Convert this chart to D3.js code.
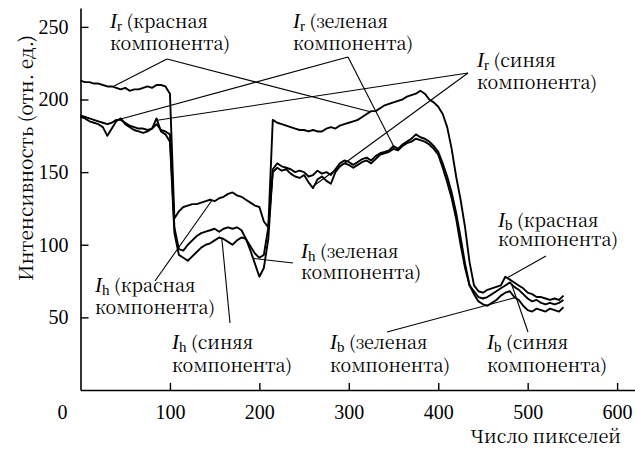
<!DOCTYPE html>
<html><head><meta charset="utf-8">
<script src="https://cdn.jsdelivr.net/npm/d3@7"></script>
<style>
html,body{margin:0;padding:0;background:#fff;}
svg text{fill:#000;}
</style></head>
<body><svg id="c" width="635" height="450"></svg>
<script>
// ---- data ----
const pixels = [0,5,10,15,20,25,30,35,40,45,50,55,60,65,70,75,80,85,90,95,100,105,110,115,120,125,130,135,140,145,150,155,160,165,170,175,180,185,190,195,200,205,210,215,220,225,230,235,240,245,250,255,260,265,270,275,280,285,290,295,300,305,310,315,320,325,330,335,340,345,350,355,360,365,370,375,380,385,390,395,400,405,410,415,420,425,430,435,440,445,450,455,460,465,470,475,480,485,490,495,500,505,510,515,520,525,530,535,540];
const redComp = [213,212,212,211,211,210,209,209,208,207,208,206,207,207,208,209,208,210,210,209,204,118,123,126,127,128,128,129,130,131,130,132,133,135,136,134,133,131,129,127,126,116,112,186,184,183,182,181,180,179,179,178,179,178,178,180,181,180,182,183,184,185,186,188,190,192,192,194,196,197,198,199,200,202,203,204,206,204,200,198,195,190,181,166,147,131,112,88,72,68,67,69,70,71,72,78,76,74,72,70,67,66,64,64,63,62,63,62,65];
const greenComp = [189,188,187,186,185,184,183,184,186,186,184,182,181,180,180,179,180,183,179,178,176,112,97,96,100,103,106,108,109,110,111,109,111,112,111,112,110,104,96,87,78,84,104,152,156,154,153,152,150,151,150,147,148,151,149,150,148,152,156,158,157,155,157,159,160,158,161,163,164,165,168,166,169,171,173,176,174,173,171,168,164,156,147,136,122,105,87,72,66,61,59,58,60,62,65,67,68,64,62,58,55,54,56,55,54,56,55,54,57];
const blueComp = [188,187,185,184,183,181,175,180,185,187,183,181,179,178,177,178,180,187,178,176,171,108,93,91,89,92,95,98,100,101,103,105,104,102,100,103,105,104,99,94,91,93,112,150,153,151,152,149,147,146,148,143,139,145,147,144,142,150,154,156,155,153,155,157,158,156,159,162,163,164,166,165,168,170,171,173,172,171,169,166,162,153,143,132,118,100,84,72,68,64,63,64,66,68,70,72,74,71,69,66,63,61,62,60,59,60,59,60,62];
const yTicks = [50,100,150,200,250];
const xTicks = [100,200,300,400,500,600];
const originLabel = "0";
const xTitle = "Число пикселей";
const yTitle = "Интенсивность (отн. ед.)";
const compNames = {red:"(красная", green:"(зеленая", blue:"(синяя"};
const line2 = "компонента)";
// annotations: subscript, component, target data x values
const annSubs = ["r","r","r","h","h","h","b","b","b"];
const annComps = ["red","green","blue","red","green","blue","red","green","blue"];
const annTargets = [[36,324],[42,350],[84,259],[147],[193],[158],[477],[486],[482]];

// ---- layout ----
const annLayout = [
  {tx:110, ty:28, lh:22, ax:167, ay:59},
  {tx:293, ty:28, lh:22, ax:348, ay:57},
  {tx:477, ty:67, lh:22, ax:468, ay:73},
  {tx:95,  ty:292, lh:22, ax:155, ay:281},
  {tx:301, ty:258, lh:21, ax:293, ay:263},
  {tx:172, ty:349, lh:23, ax:230, ay:323},
  {tx:498, ty:227, lh:19, ax:546, ay:256},
  {tx:330, ty:349, lh:23, ax:387, ay:332},
  {tx:487, ty:349, lh:23, ax:528, ay:332}
];
const series = {red:redComp, green:greenComp, blue:blueComp};
const LAT = "'Liberation Serif', serif";
const CYR = "'Noto Serif CJK SC', 'DejaVu Serif', serif";

const svg = d3.select("#c");
const x = d3.scaleLinear().domain([0,620]).range([80.5,635]);
const y = d3.scaleLinear().domain([0,263]).range([390,8]);
const FS = 20, CFS = 18;

// axes
const gy = svg.append("g").attr("transform","translate(80.5,0)")
  .call(d3.axisLeft(y).tickValues(yTicks).tickSize(-8).tickSizeOuter(0).tickPadding(12));
const gx = svg.append("g").attr("transform","translate(0,390)")
  .call(d3.axisBottom(x).tickValues(xTicks).tickSize(-7).tickSizeOuter(0).tickPadding(15));
[gx,gy].forEach(g=>{
  g.attr("font-family",LAT).attr("font-size",FS);
  g.select(".domain").attr("stroke","#000").attr("stroke-width",1.6);
  g.selectAll(".tick line").attr("stroke","#000").attr("stroke-width",1.4);
  g.selectAll(".tick text").style("font-family",LAT).attr("font-size",FS);
});
svg.append("text").attr("x",x(0)-18).attr("y",390+15).attr("dy","0.71em")
  .attr("text-anchor","middle").attr("font-size",FS).style("font-family",LAT).text(originLabel);

svg.append("text").attr("x",621).attr("y",443).attr("text-anchor","end")
  .attr("font-size",CFS).style("font-family",CYR).text(xTitle);
svg.append("text").attr("transform","translate(33,158) rotate(-90)")
  .attr("text-anchor","middle").attr("font-size",19).style("font-family",CYR).text(yTitle);

// curves
const line = d3.line().x((d,i)=>x(pixels[i])).y(d=>y(d));
["red","green","blue"].forEach(k=>{
  svg.append("path").datum(series[k]).attr("d",line)
    .attr("fill","none").attr("stroke","#000").attr("stroke-width",1.9)
    .attr("stroke-linejoin","round");
});

function yAt(arr, xv){
  const i = Math.min(d3.bisectLeft(pixels, xv), pixels.length-1);
  if(i===0) return arr[0];
  const x0=pixels[i-1], x1=pixels[i], t=(xv-x0)/(x1-x0);
  return arr[i-1]+(arr[i]-arr[i-1])*t;
}

// annotations
annSubs.forEach((s,i)=>{
  const L = annLayout[i], comp = annComps[i];
  annTargets[i].forEach(tx=>{
    svg.append("line").attr("x1",L.ax).attr("y1",L.ay)
      .attr("x2",x(tx)).attr("y2",y(yAt(series[comp],tx)))
      .attr("stroke","#000").attr("stroke-width",1.1);
  });
  const t = svg.append("text").attr("x",L.tx).attr("y",L.ty).style("font-family",CYR).attr("font-size",CFS);
  t.append("tspan").style("font-family",LAT).attr("font-style","italic").attr("font-size",21).text("I");
  t.append("tspan").style("font-family",LAT).attr("font-size",15).attr("baseline-shift","-3").text(s);
  t.append("tspan").text("\u00a0"+compNames[comp]);
  svg.append("text").attr("x",L.tx).attr("y",L.ty+L.lh).style("font-family",CYR).attr("font-size",CFS).text(line2);
});
</script></body></html>
